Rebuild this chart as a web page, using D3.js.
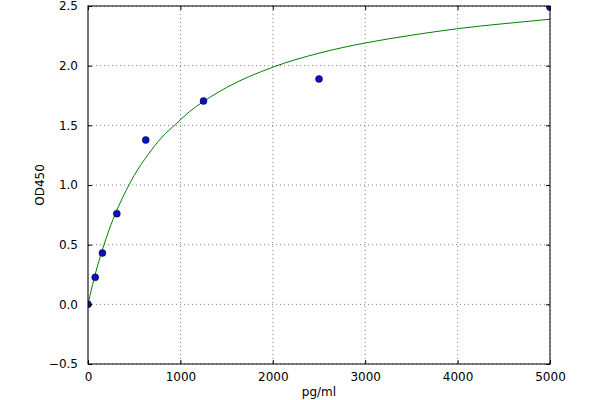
<!DOCTYPE html>
<html><head><meta charset="utf-8">
<script src="https://cdn.jsdelivr.net/npm/d3@7"></script>
<style>body{margin:0;background:#fff;} svg{display:block;} text{font-family:"DejaVu Sans",sans-serif;}</style>
</head><body>
<svg id="c" width="600" height="400"></svg>
<script>
const concentrations = [0, 78, 156, 312, 625, 1250, 2500, 5000];
const odValues = [0.0, 0.226, 0.43, 0.76, 1.377, 1.704, 1.889, 2.49];
const fitX = [0, 50, 100, 165, 250, 330, 410, 500, 650, 800, 950, 1100, 1250, 1500, 2000, 2500, 3000, 3500, 4000, 4500, 5000];
const fitY = [0, 0.166, 0.314, 0.48, 0.67, 0.82, 0.95, 1.08, 1.255, 1.40, 1.51, 1.616, 1.70, 1.817, 1.987, 2.105, 2.19, 2.255, 2.31, 2.352, 2.389];
const xTicks = [0, 1000, 2000, 3000, 4000, 5000];
const yTicks = [-0.5, 0.0, 0.5, 1.0, 1.5, 2.0, 2.5];

const L = 88, R = 550, T = 6, B = 364;
const svg = d3.select("#c");
const x = d3.scaleLinear().domain([0, 5000]).range([L, R]);
const y = d3.scaleLinear().domain([-0.5, 2.5]).range([B, T]);

svg.append("defs").append("clipPath").attr("id","clip")
  .append("rect").attr("x",L).attr("y",T).attr("width",R-L).attr("height",B-T);

// grid
const g = svg.append("g");
g.selectAll(".gx").data(xTicks).enter().append("line")
  .attr("x1",d=>x(d)).attr("x2",d=>x(d)).attr("y1",T).attr("y2",B)
  .attr("stroke","#000").attr("stroke-width",0.5).attr("stroke-dasharray","1,3");
g.selectAll(".gy").data(yTicks).enter().append("line")
  .attr("y1",d=>y(d)).attr("y2",d=>y(d)).attr("x1",L).attr("x2",R)
  .attr("stroke","#000").attr("stroke-width",0.5).attr("stroke-dasharray","1,3");

// fit curve
const pts = fitX.map((v,i)=>[v, fitY[i]]);
svg.append("path").datum(pts)
  .attr("clip-path","url(#clip)")
  .attr("d", d3.line().x(d=>x(d[0])).y(d=>y(d[1])).curve(d3.curveMonotoneX))
  .attr("fill","none").attr("stroke","#007f00").attr("stroke-width",1);

// points
svg.append("g").attr("clip-path","url(#clip)")
  .selectAll("circle").data(concentrations).enter().append("circle")
  .attr("cx",d=>x(d)).attr("cy",(d,i)=>y(odValues[i])).attr("r",3.5)
  .attr("fill","#0a10c8").attr("stroke","#000").attr("stroke-width",0.5);

// axes frame
svg.append("rect").attr("x",L).attr("y",T).attr("width",R-L).attr("height",B-T)
  .attr("fill","none").attr("stroke","#000").attr("stroke-width",1);

// ticks (inward, all sides)
const fmtY = d => d3.format(".1f")(d).replace("-", "\u2212");
const axB = d3.axisBottom(x).tickValues(xTicks).tickSizeInner(-4).tickSizeOuter(0).tickPadding(8).tickFormat(d3.format("d"));
const axT = d3.axisTop(x).tickValues(xTicks).tickSizeInner(-4).tickSizeOuter(0).tickFormat("");
const axLf = d3.axisLeft(y).tickValues(yTicks).tickSizeInner(-4).tickSizeOuter(0).tickPadding(10).tickFormat(fmtY);
const axRt = d3.axisRight(y).tickValues(yTicks).tickSizeInner(-4).tickSizeOuter(0).tickFormat("");
function style(sel){ sel.select(".domain").remove(); sel.selectAll("text").attr("font-size",12).attr("fill","#000").attr("font-family","DejaVu Sans, sans-serif"); sel.selectAll("line").attr("stroke","#000"); }
svg.append("g").attr("transform",`translate(0,${B})`).call(axB).call(style);
svg.append("g").attr("transform",`translate(0,${T})`).call(axT).call(style);
svg.append("g").attr("transform",`translate(${L},0)`).call(axLf).call(style);
svg.append("g").attr("transform",`translate(${R},0)`).call(axRt).call(style);

// labels
svg.append("text").attr("x",(L+R)/2).attr("y",396).attr("text-anchor","middle")
  .attr("font-size",12).text("pg/ml");
svg.append("text").attr("transform",`translate(44,${(T+B)/2}) rotate(-90)`)
  .attr("text-anchor","middle").attr("font-size",12).text("OD450");
</script>
</body></html>
